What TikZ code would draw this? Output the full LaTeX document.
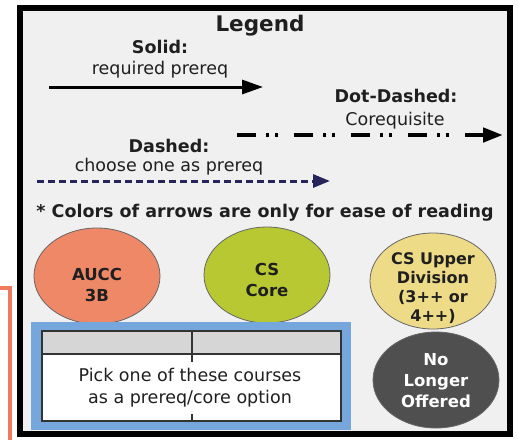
\documentclass[tikz,border=0pt]{standalone}
\usepackage{fontspec}
\setmainfont{DejaVu Sans}
\usetikzlibrary{arrows.meta,shapes.geometric}

\definecolor{aucc}{HTML}{EE8866}
\definecolor{core}{HTML}{B8C832}
\definecolor{upper}{HTML}{EEDB88}
\definecolor{gone}{HTML}{4F4F4F}
\definecolor{panel}{HTML}{F0F0F0}
\definecolor{navy}{HTML}{25255C}
\definecolor{boxblue}{HTML}{76A7DC}
\definecolor{headgray}{HTML}{D6D6D6}

\begin{document}
\begin{tikzpicture}[x=1pt,y=-1pt,
	txt/.style={font=\fontsize{17.5}{21}\selectfont, text=black!88, inner sep=0pt},
	hd/.style={txt, font=\fontsize{17.5}{21}\selectfont\bfseries},
	blob/.style={ellipse, draw=black!60, line width=0.8pt, minimum width=126pt, minimum height=96pt, inner sep=0pt},
	intxt/.style={hd, align=center, font=\fontsize{16.5}{21}\selectfont\bfseries},
	solidline/.style={line width=3pt, -{Triangle[length=21pt,width=14pt]}},
	dotdash/.style={line width=4.5pt, dash pattern=on 19pt off 10pt on 3pt off 6pt on 3pt off 16pt, -{Triangle[length=20pt,width=14pt]}},
	dashline/.style={navy, line width=3pt, dash pattern=on 7pt off 4pt, -{Triangle[length=17pt,width=13pt]}},
]
\useasboundingbox (0,0) rectangle (518,440);

\draw[aucc!90!red, line width=4pt] (0,288) -- (10,288) -- (10,440);
\draw[line width=6pt, fill=panel] (20,8) rectangle (510,434);

\node[txt, font=\fontsize{21.5}{25}\selectfont\bfseries] (title) at (260,26) {Legend};

\node[hd] (solid) at (160,47) {Solid:};
\node[txt] (solidtxt) at (160,70) {required prereq};
\coordinate (s1) at (49,87);
\coordinate (s2) at (263,87);
\draw[solidline] (s1) -- (s2);

\node[hd] (dotd) at (396,96) {Dot-Dashed:};
\node[txt] (dotdtxt) at (395,121) {Corequisite};
\coordinate (d1) at (237,135);
\coordinate (d2) at (503,135);
\draw[dotdash] (d1) -- (d2);

\node[hd] (dash) at (169,146) {Dashed:};
\node[txt] (dashtxt) at (169,167) {choose one as prereq};
\coordinate (n1) at (37,181);
\coordinate (n2) at (330,181);
\draw[dashline] (n1) -- (n2);

\node[hd] (note) at (265,213) {* Colors of arrows are only for ease of reading};

\node[blob, fill=aucc] (aucc) at (97,276) {};
\node[blob, fill=core] (core) at (267,275) {};
\node[blob, fill=upper] (upper) at (433,281) {};
\node[blob, fill=gone] (gone) at (436,380) {};

\node[intxt] (auccT) at (97,285) {AUCC\\3B};
\node[intxt] (coreT) at (267,280) {CS\\Core};
\node[intxt, font=\fontsize{16}{19}\selectfont\bfseries] (upperT) at (433,288) {CS Upper\\Division\\(3++ or\\4++)};
\node[intxt, text=white] (goneT) at (436,381) {No\\Longer\\Offered};

\fill[boxblue] (31,322) rectangle (351,430);
\fill[white] (42,331) rectangle (341,421);
\fill[headgray] (42,331) rectangle (341,354);
\draw[black!80, line width=1.2pt] (42,354) -- (341,354);
\draw[black!80, line width=1.2pt] (192,331) -- (192,362);
\draw[black!80, line width=1.2pt] (192,414) -- (192,421);
\draw[black!80, line width=1.5pt] (42,331) rectangle (341,421);

\node[txt, align=center, font=\fontsize{17.5}{22}\selectfont] (pick) at (190,388) {Pick one of these courses\\as a prereq/core option};
\end{tikzpicture}
\end{document}
